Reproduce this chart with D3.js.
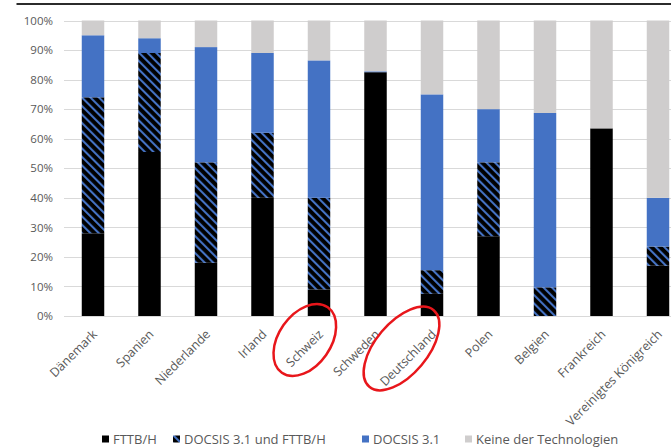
<!DOCTYPE html>
<html>
<head>
<meta charset="utf-8">
<script src="https://cdn.jsdelivr.net/npm/d3@7"></script>
<style>
  html, body { margin: 0; padding: 0; background: #fff; }
  svg { display: block; font-family: "Open Sans", "Noto Sans", sans-serif; }
</style>
</head>
<body>
<svg id="chart" width="671" height="448"></svg>
<script>
// Countries along the x axis
const countries = ["Dänemark", "Spanien", "Niederlande", "Irland", "Schweiz", "Schweden",
                   "Deutschland", "Polen", "Belgien", "Frankreich", "Vereinigtes Königreich"];

// Share of households per technology (percent), stacked bottom to top
const fttbh      = [28, 55.5, 18, 40, 9, 82.5, 7.5, 27, 0, 63.5, 17];
const docsisFttb = [46, 33.5, 34, 22, 31, 0, 8, 25, 9.7, 0, 6.5];
const docsis     = [21, 5, 39, 27, 46.5, 0.3, 59.5, 18, 59, 0, 16.5];
const keine      = [5, 6, 9, 11, 13.5, 17.2, 25, 30, 31.3, 36.5, 60];

const seriesNames = ["FTTB/H", "DOCSIS 3.1 und FTTB/H", "DOCSIS 3.1", "Keine der Technologien"];
const yTicks = [0, 10, 20, 30, 40, 50, 60, 70, 80, 90, 100];

const svg = d3.select("#chart");
const defs = svg.append("defs");

// Diagonal stripes for the combined DOCSIS 3.1 + FTTB/H share
const pat = defs.append("pattern")
  .attr("id", "hatch")
  .attr("patternUnits", "userSpaceOnUse")
  .attr("width", 6).attr("height", 6)
  .attr("patternTransform", "rotate(-45)");
pat.append("rect").attr("width", 6).attr("height", 6).attr("fill", "#000");
pat.append("rect").attr("x", 0).attr("width", 2.1).attr("height", 6).attr("fill", "#4472C4");

const fills = ["#000000", "url(#hatch)", "#4472C4", "#CFCDCD"];

const rows = countries.map((c, i) => ({
  country: c,
  [seriesNames[0]]: fttbh[i],
  [seriesNames[1]]: docsisFttb[i],
  [seriesNames[2]]: docsis[i],
  [seriesNames[3]]: keine[i]
}));

const stacked = d3.stack().keys(seriesNames)(rows);

const x = d3.scaleBand()
  .domain(countries)
  .range([64.75, 686.25])
  .paddingInner(0.602)
  .paddingOuter(0.301);

const y = d3.scaleLinear().domain([0, 100]).range([316, 20.5]);

// Top rule
svg.append("line")
  .attr("x1", 16.5).attr("x2", 671)
  .attr("y1", 4).attr("y2", 4)
  .attr("stroke", "#2b2b2b").attr("stroke-width", 2);

// Gridlines
svg.append("g").selectAll("line")
  .data(yTicks)
  .join("line")
  .attr("x1", 64).attr("x2", 671)
  .attr("y1", d => Math.round(y(d)) + 0.5)
  .attr("y2", d => Math.round(y(d)) + 0.5)
  .attr("stroke", "#D9D9D9").attr("stroke-width", 1);

// Y axis labels
const yAxis = d3.axisLeft(y)
  .tickValues(yTicks)
  .tickFormat(d => d + "%")
  .tickSize(0)
  .tickPadding(0);
const gy = svg.append("g")
  .attr("transform", "translate(53,0)")
  .call(yAxis);
gy.select(".domain").remove();
gy.selectAll("text")
  .attr("fill", "#595959")
  .style("font-size", "11.5px")
  .style("font-family", "'Open Sans', 'Noto Sans', sans-serif");

// Stacked bars
svg.append("g").selectAll("g")
  .data(stacked)
  .join("g")
  .attr("fill", (d, i) => fills[i])
  .selectAll("rect")
  .data(d => d)
  .join("rect")
  .attr("x", d => x(d.data.country))
  .attr("width", x.bandwidth())
  .attr("y", d => y(d[1]))
  .attr("height", d => Math.max(0, y(d[0]) - y(d[1])));

// X axis labels, rotated
const gx = svg.append("g")
  .attr("transform", "translate(0,316)")
  .call(d3.axisBottom(x).tickSize(0).tickPadding(0));
gx.select(".domain").remove();
gx.selectAll(".tick text")
  .attr("fill", "#595959")
  .attr("text-anchor", "end")
  .attr("y", 0).attr("dy", 0)
  .attr("transform", "translate(5,19) rotate(-45)")
  .style("font-size", "12.5px")
  .style("font-family", "'Open Sans', 'Noto Sans', sans-serif");

// Red highlight ellipses around two country labels
const marks = [
  { country: "Schweiz", dx: -14.2, cy: 340, rx: 40, ry: 26, angle: -55 },
  { country: "Deutschland", dx: -30.5, cy: 348.5, rx: 50, ry: 26, angle: -50 }
];
svg.append("g").selectAll("ellipse")
  .data(marks)
  .join("ellipse")
  .attr("transform", d => `translate(${x(d.country) + x.bandwidth() / 2 + d.dx},${d.cy}) rotate(${d.angle})`)
  .attr("rx", d => d.rx).attr("ry", d => d.ry)
  .attr("fill", "none")
  .attr("stroke", "#E8161B")
  .attr("stroke-width", 2.5);

// Legend
const legendX = [113, 184, 373, 476];
const legend = svg.append("g").selectAll("g")
  .data(seriesNames)
  .join("g")
  .attr("transform", (d, i) => `translate(${legendX[i]},439)`);
legend.append("rect")
  .attr("x", -11).attr("y", -3.5)
  .attr("width", 7).attr("height", 7)
  .attr("fill", (d, i) => fills[i]);
legend.append("text")
  .attr("dy", "0.35em")
  .attr("fill", "#595959")
  .style("font-size", "13px")
  .text(d => d);
</script>
</body>
</html>
